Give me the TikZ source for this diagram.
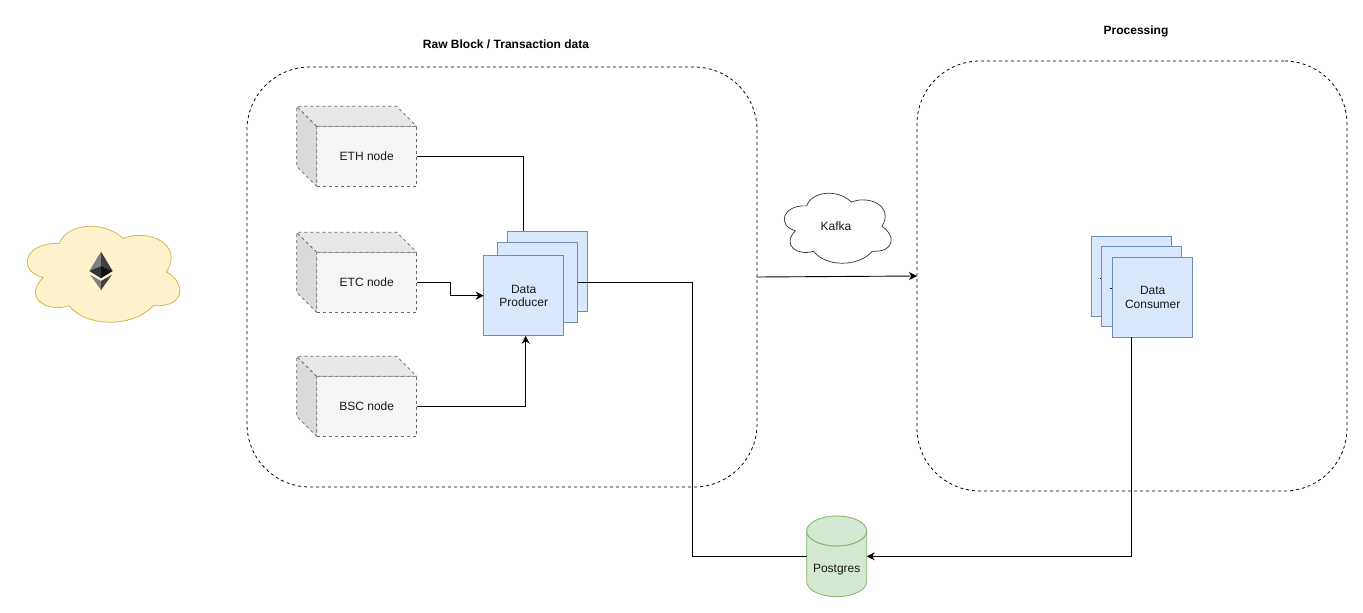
\documentclass[tikz,border=0pt]{standalone}
\usepackage{fontspec}
\setmainfont{Liberation Sans}
\usetikzlibrary{arrows.meta}
\definecolor{boxfill}{HTML}{F5F5F5}
\definecolor{boxline}{HTML}{666666}
\definecolor{blueFill}{HTML}{DAE8FC}
\definecolor{blueLine}{HTML}{6C8EBF}
\definecolor{greenFill}{HTML}{D5E8D4}
\definecolor{greenLine}{HTML}{82B366}
\definecolor{yellowFill}{HTML}{FFF2CC}
\definecolor{yellowLine}{HTML}{D6B656}
\tikzset{
    every node/.style={inner sep=0pt,outer sep=0pt,font=\fontsize{12}{13.5}\selectfont,text=black!90,align=center},
    container/.style={draw,dashed,dash pattern=on 3pt off 3pt,line width=.8pt,rounded corners=63pt},
    front/.style={draw=boxline,fill=boxfill,dashed,dash pattern=on 3pt off 3pt,line width=.8pt,minimum width=100pt,minimum height=60pt},
    face/.style={draw=boxline,dash pattern=on 3pt off 3pt,line width=.8pt,line join=round},
    layer/.style={draw=blueLine,fill=blueFill,line width=.8pt,minimum size=80pt},
    conn/.style={line width=.9pt},
    arrow/.style={conn,-{Stealth[length=8pt,width=8pt,inset=2.5pt]}},
    title/.style={font=\bfseries\fontsize{12}{14}\selectfont,text=black},
    pics/cloudshape/.style={code={
        \draw[pic actions] (178,130) .. controls (200,70) and (310,60) .. (368,115)
            .. controls (440,85) and (550,130) .. (497,214)
            .. controls (555,245) and (555,320) .. (457,314)
            .. controls (400,378) and (260,380) .. (207,314)
            .. controls (140,335) and (70,290) .. (130,231)
            .. controls (50,210) and (75,125) .. (178,130) -- cycle;
    }}
}
\begin{document}
\begin{tikzpicture}[x=1pt,y=-1pt]
    \useasboundingbox (0,0) rectangle (1363,613);
    % two big regions
    \node[container,minimum width=510pt,minimum height=420pt] (rawbox) at (502,277) {};
    \node[container,minimum width=430pt,minimum height=430pt] (procbox) at (1132,276) {};
    \node[title] (rawtitle) at (506,44.5) {Raw Block / Transaction data};
    \node[title] (proctitle) at (1136,31) {Processing};

    % clouds
    \pic[draw=yellowLine,fill=yellowFill,line width=.8pt,xscale=.3362,yscale=.338] at (-0.6,199.6) {cloudshape};
    \pic[draw=black!80,fill=white,line width=.7pt,xscale=.2358,yscale=.2465] at (764.7,173.8) {cloudshape};
    \node (kafka) at (836,226) {Kafka};

    % ether logo
    \coordinate (T) at (101,251.7);
    \coordinate (L) at (89.3,271);
    \coordinate (R) at (112.7,271);
    \coordinate (M) at (101,266);
    \coordinate (D) at (101,278.3);
    \fill[black!50] (T) -- (L) -- (M) -- cycle;
    \fill[black!75] (T) -- (R) -- (M) -- cycle;
    \fill[black!80] (L) -- (M) -- (D) -- cycle;
    \fill[black!93] (R) -- (M) -- (D) -- cycle;
    \fill[black!50] (90,274.7) -- (101,281) -- (101,290) -- cycle;
    \fill[black!75] (112,274.7) -- (101,281) -- (101,290) -- cycle;

    % the three chain nodes
    \foreach \name/\y/\lab in {ethnode/156.3/ETH node,etcnode/282.3/ETC node,bscnode/406.3/BSC node}{
        \node[front] (\name) at (366.7,\y) {\lab};
        \draw[face,fill=black!14,dashed,dash pattern=on 3pt off 3pt] (\name.north west) -- ([shift={(-20,-20)}]\name.north west)
            -- ([shift={(-20,-20)}]\name.south west) -- (\name.south west) -- cycle;
        \draw[face,fill=black!9,dashed,dash pattern=on 3pt off 3pt] (\name.north west) -- ([shift={(-20,-20)}]\name.north west)
            -- ([shift={(-20,-20)}]\name.north east) -- (\name.north east) -- cycle;
    }

    % producer stack
    \node[layer] (prodC) at (547.3,271.3) {};
    \node[layer] (prodB) at (537.7,282.3) {};
    \draw[conn] (prodB.east) -- ++(114.3,0) coordinate (prodbend);
    \node[layer] (prodA) at (523.7,295.7) {Data\\Producer};

    % consumer stack
    \node[layer] (consC) at (1131.7,276.7) {};
    \draw[conn] (1100,278.7) -- (1102,278.7);
    \node[layer] (consB) at (1141.7,286.7) {};
    \draw[conn] (1110,288.3) -- (1112.7,288.3);
    \node[layer] (consA) at (1152.7,297.3) {Data\\Consumer};

    % postgres
    \node[minimum width=60pt,minimum height=80.7pt] (postgres) at (836.7,556.3) {};
    \draw[draw=greenLine,fill=greenFill,line width=.8pt] (postgres.north west) ++(0,15)
        arc[start angle=180,end angle=360,x radius=30,y radius=-15] -- ++(0,50.7)
        arc[start angle=0,end angle=-180,x radius=30,y radius=-15] -- cycle;
    \draw[draw=greenLine,fill=greenFill,line width=.8pt] ([yshift=-15pt]postgres.north) ellipse [x radius=30,y radius=15];
    \node (pglabel) at (836.7,569.5) {Postgres};

    % connectors
    \draw[conn] (ethnode.east) -| (prodA.north |- prodC.north);
    \draw[arrow] (etcnode.east) -- (450,282.3) -- (450,295.7) -- (prodA.west);
    \draw[arrow] (bscnode.east) -| ([xshift=2pt]prodA.south);
    \draw[conn] (prodbend) |- (postgres.west);
    \draw[arrow] (rawbox.east) -- (procbox.west);
    \draw[arrow] ([xshift=-21pt]consA.south) |- (postgres.east);
\end{tikzpicture}
\end{document}
